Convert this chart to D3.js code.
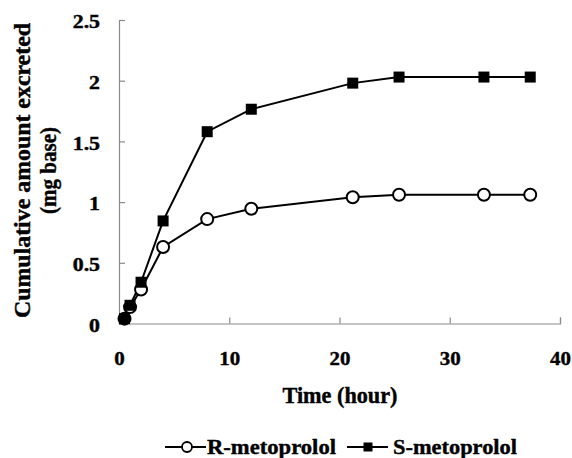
<!DOCTYPE html>
<html><head><meta charset="utf-8">
<script src="https://cdn.jsdelivr.net/npm/d3@7"></script>
<style>
body{margin:0;background:#fff;}
text{font-family:"Liberation Serif","Times New Roman",serif;font-weight:bold;fill:#000;stroke:#000;stroke-width:0.4px;}
</style></head>
<body><svg id="c" width="572" height="458"></svg>
<script>
const timeHours = [0.5, 1, 2, 4, 8, 12, 21.2, 25.4, 33.1, 37.3];
const rMetoprolol = [0.04, 0.135, 0.28, 0.63, 0.86, 0.945, 1.04, 1.06, 1.06, 1.06];
const sMetoprolol = [0.04, 0.15, 0.34, 0.845, 1.58, 1.765, 1.98, 2.03, 2.03, 2.03];
const xTicks = [0, 10, 20, 30, 40];
const yTicks = [0, 0.5, 1, 1.5, 2, 2.5];
const seriesNames = ["R-metoprolol", "S-metoprolol"];

const svg = d3.select("#c");
const x = d3.scaleLinear().domain([0, 40]).range([119, 560]);
const y = d3.scaleLinear().domain([0, 2.5]).range([323.5, 20]);

function stretch(sel, factor){
  sel.each(function(){
    const w = this.getComputedTextLength();
    this.setAttribute("textLength", w * factor);
    this.setAttribute("lengthAdjust", "spacingAndGlyphs");
  });
}

// x axis
const gx = svg.append("g").attr("transform", `translate(0,${y(0)})`)
  .call(d3.axisBottom(x).tickValues(xTicks).tickSize(-6).tickPadding(0).tickFormat(d3.format("d")));
gx.select(".domain").attr("stroke", "#8a8a8a").attr("stroke-width", 1.2);
gx.selectAll(".tick line").attr("stroke", "#8a8a8a").attr("stroke-width", 1.2);
gx.selectAll(".tick text").attr("y", 41).attr("dy", 0).style("font-size", "18.5px")
  .style("font-family", "Liberation Serif, serif").style("font-weight", "bold").attr("fill", "#000");
stretch(gx.selectAll(".tick text"), 1.13);

// y axis
const gy = svg.append("g").attr("transform", `translate(${x(0)},0)`)
  .call(d3.axisLeft(y).tickValues(yTicks).tickSize(-6).tickPadding(0).tickFormat(d => d3.format("")(d)));
gy.select(".domain").attr("stroke", "#8a8a8a").attr("stroke-width", 1.2);
gy.selectAll(".tick line").attr("stroke", "#8a8a8a").attr("stroke-width", 1.2);
gy.selectAll(".tick text").attr("x", -19).attr("dy", "0.42em").style("font-size", "18.5px")
  .style("font-family", "Liberation Serif, serif").style("font-weight", "bold").attr("fill", "#000");
stretch(gy.selectAll(".tick text"), 1.18);

// axis titles
svg.append("text").attr("x", 340).attr("y", 403).attr("text-anchor", "middle")
  .style("font-size", "22.5px").text("Time (hour)")
  .attr("textLength", 115).attr("lengthAdjust", "spacingAndGlyphs");
const yt = svg.append("g").attr("transform", "translate(30,170.5) rotate(-90)");
yt.append("text").attr("x", 0).attr("y", 0).attr("text-anchor", "middle")
  .style("font-size", "23px").text("Cumulative amount excreted")
  .attr("textLength", 295).attr("lengthAdjust", "spacingAndGlyphs");
yt.append("text").attr("x", 0).attr("y", 26).attr("text-anchor", "middle")
  .style("font-size", "23px").text("(mg base)")
  .attr("textLength", 87).attr("lengthAdjust", "spacingAndGlyphs");

// data
const rData = timeHours.map((t, i) => ({t, v: rMetoprolol[i]}));
const sData = timeHours.map((t, i) => ({t, v: sMetoprolol[i]}));
const line = d3.line().x(d => x(d.t)).y(d => y(d.v));

svg.append("path").datum(sData).attr("d", line).attr("fill", "none").attr("stroke", "#000").attr("stroke-width", 2);
svg.append("path").datum(rData).attr("d", line).attr("fill", "none").attr("stroke", "#000").attr("stroke-width", 2);

svg.selectAll("circle.r").data(rData).enter().append("circle").attr("class", "r")
  .attr("cx", d => x(d.t)).attr("cy", d => y(d.v)).attr("r", 6)
  .attr("fill", "#fff").attr("stroke", "#000").attr("stroke-width", 2);
const sq = 11;
svg.selectAll("rect.s").data(sData).enter().append("rect").attr("class", "s")
  .attr("x", d => x(d.t) - sq/2).attr("y", d => y(d.v) - sq/2)
  .attr("width", sq).attr("height", sq).attr("fill", "#000");

// legend
const ly = 447;
const lg = svg.append("g");
lg.append("line").attr("x1", 165).attr("x2", 206).attr("y1", ly).attr("y2", ly).attr("stroke", "#000").attr("stroke-width", 1.8);
lg.append("circle").attr("cx", 187).attr("cy", ly).attr("r", 5).attr("fill", "#fff").attr("stroke", "#000").attr("stroke-width", 1.8);
lg.append("text").attr("x", 207).attr("y", ly + 6.5).style("font-size", "21px").text(seriesNames[0])
  .attr("textLength", 129).attr("lengthAdjust", "spacingAndGlyphs");
lg.append("line").attr("x1", 347).attr("x2", 388).attr("y1", ly).attr("y2", ly).attr("stroke", "#000").attr("stroke-width", 1.8);
lg.append("rect").attr("x", 368 - 4.5).attr("y", ly - 4.5).attr("width", 9).attr("height", 9).attr("fill", "#000");
lg.append("text").attr("x", 393).attr("y", ly + 6.5).style("font-size", "21px").text(seriesNames[1])
  .attr("textLength", 124).attr("lengthAdjust", "spacingAndGlyphs");
</script></body></html>
